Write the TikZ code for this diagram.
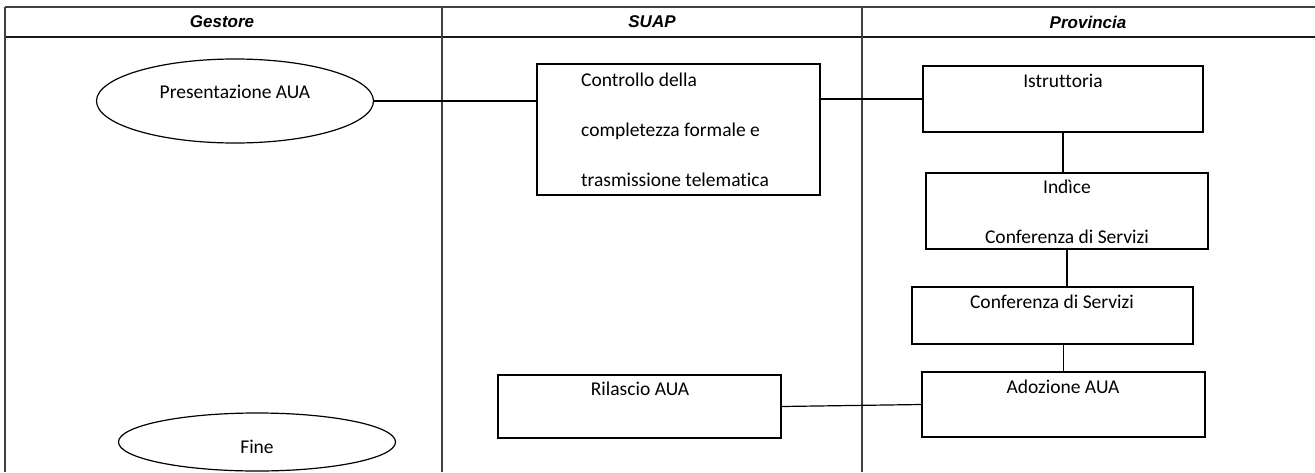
\documentclass[tikz,border=0pt]{standalone}
\usepackage{fontspec}
\setmainfont{Carlito}[Ligatures={NoCommon}]
\newfontfamily\headfont{Liberation Sans}
\usepackage{tikz}
\usetikzlibrary{shapes.geometric}

\tikzset{
  grid/.style={line width=1.6pt, draw=black!75},
  headtxt/.style={inner sep=0.75pt, font=\headfont\bfseries\itshape\fontsize{17}{20}\selectfont},
  bodytxt/.style={inner sep=0.75pt, font=\fontsize{19.5}{24}\selectfont},
  stepbox/.style={draw, line width=1.2pt, rectangle, inner sep=0pt},
  oval/.style={draw, line width=1.2pt, ellipse, inner sep=0pt},
  link/.style={line width=1.2pt}
}

\begin{document}
\begin{tikzpicture}[x=1pt,y=1pt,yscale=-1,xscale=1]

\useasboundingbox (0,0) rectangle (1315,472);

\draw [grid] (5,7) -- (1315,7) ;
\draw [grid,draw=black!90] (5,37) -- (1315,37) ;
\draw [grid] (5,7) -- (5,472) ;
\draw [grid] (442,7) -- (442,472) ;
\draw [grid] (862,7) -- (862,472) ;

\node (hgest) [headtxt] at (222,22) {Gestore};
\node (hsuap) [headtxt] at (652,22) {SUAP};
\node (hprov) [headtxt] at (1088,22) {Provincia};

\node (pres) [oval, minimum width=277, minimum height=84] at (235,101) {};
\node (pres-t) [bodytxt] at (235,92) {Presentazione AUA};

\node (fine) [oval, minimum width=277, minimum height=58] at (257,442) {};
\node (fine-t) [bodytxt] at (257,447) {Fine};

\node (ctrl) [stepbox, minimum width=283, minimum height=131] at (678.5,129.5) {};
\node (ctrl-t) [bodytxt, align=left, font=\fontsize{19.5}{50}\selectfont] at (675,129.5) {Controllo della\\completezza formale e\\trasmissione telematica};

\node (istr) [stepbox, minimum width=280, minimum height=66] at (1063,99) {};
\node (istr-t) [bodytxt] at (1063,81) {Istruttoria};

\node (indc) [stepbox, minimum width=282, minimum height=76] at (1067,211) {};
\node (indc-t) [bodytxt, align=center, font=\fontsize{19.5}{50}\selectfont] at (1067,212) {Indìce\\Conferenza di Servizi};

\node (conf) [stepbox, minimum width=281, minimum height=57] at (1052.5,315.5) {};
\node (conf-t) [bodytxt] at (1052,302) {Conferenza di Servizi};

\node (adoz) [stepbox, minimum width=283, minimum height=65] at (1063.5,404.5) {};
\node (adoz-t) [bodytxt] at (1063,387) {Adozione AUA};

\node (rila) [stepbox, minimum width=283, minimum height=63] at (639.5,406.5) {};
\node (rila-t) [bodytxt] at (640,389) {Rilascio AUA};

\draw [link] (pres.east) -- (pres.east -| ctrl.west) ;
\draw [link] (istr.west -| ctrl.east) -- (istr.west) ;
\draw [link] (istr.south) -- (istr.south |- indc.north) ;
\draw [link] (indc.south) -- (indc.south |- conf.north) ;
\draw [link] (adoz.north |- conf.south) -- (adoz.north) ;
\draw [link] (rila.east) -- (adoz.west) ;

\end{tikzpicture}
\end{document}
